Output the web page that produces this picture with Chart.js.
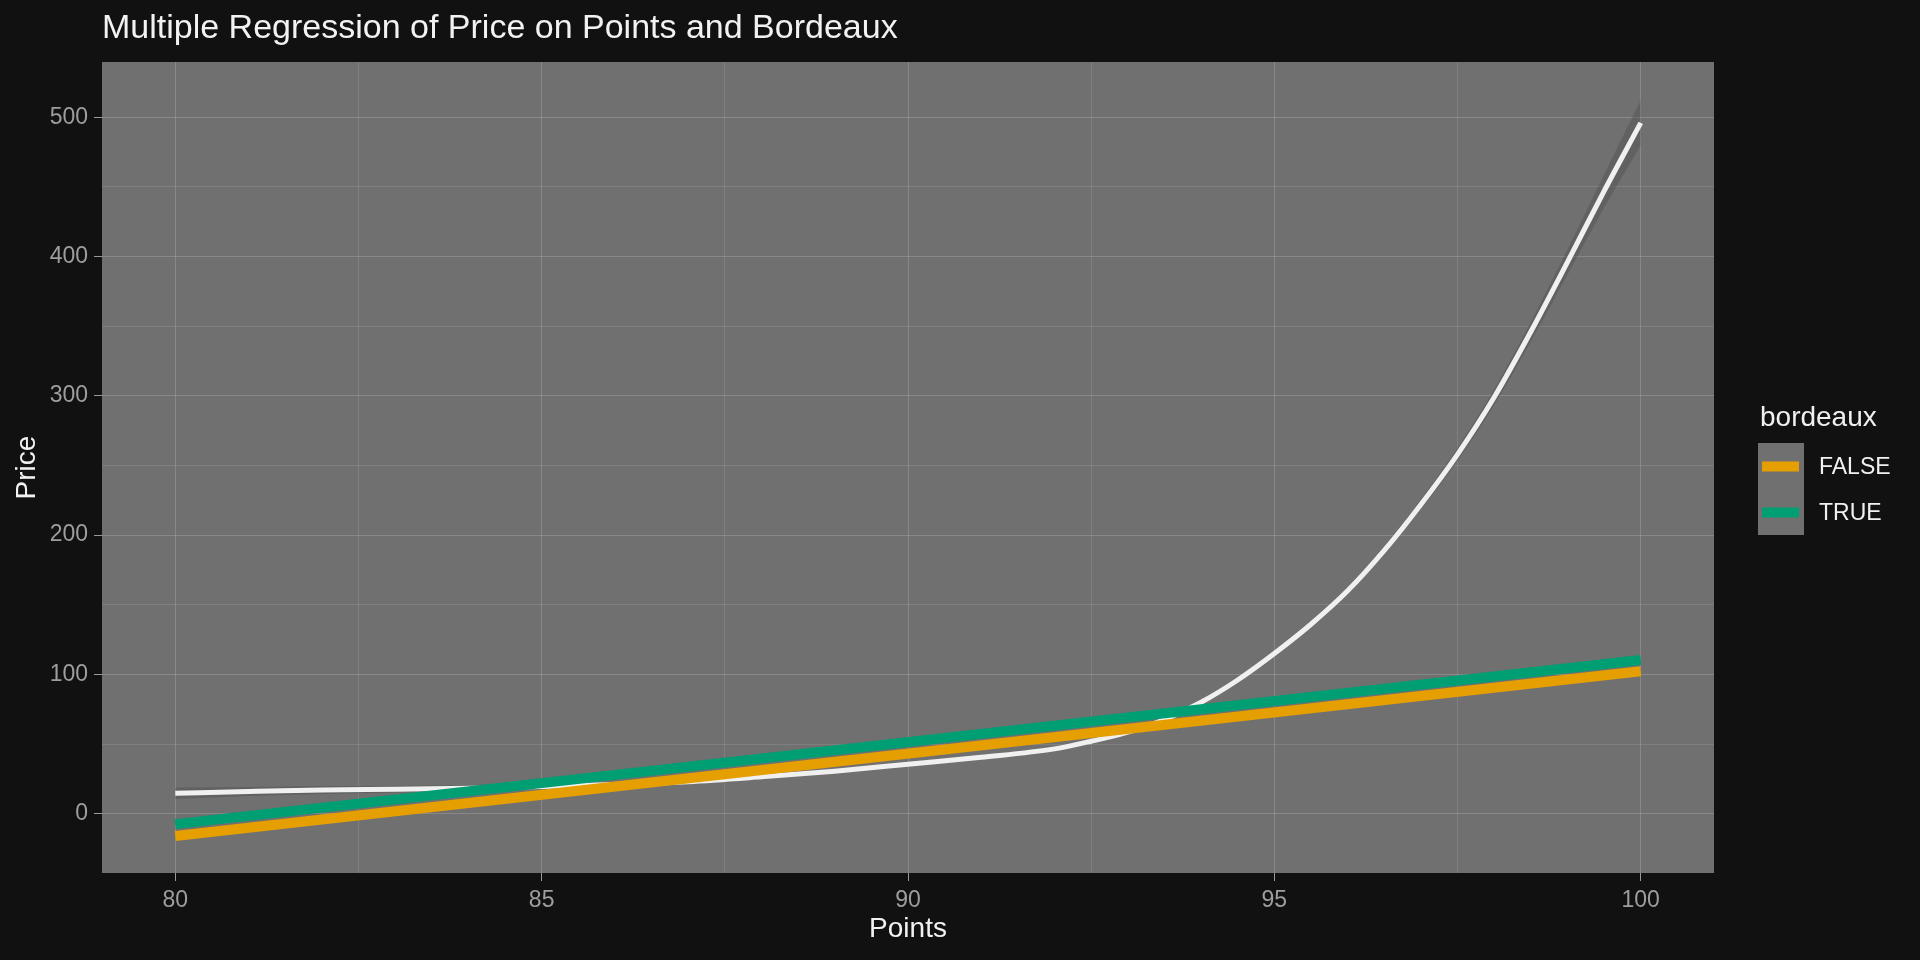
<!DOCTYPE html>
<html>
<head>
<meta charset="utf-8">
<script src="https://cdn.jsdelivr.net/npm/chart.js@4.4.0/dist/chart.umd.min.js"></script>
<style>
  html, body { margin:0; padding:0; background:#111111; }
  canvas { display:block; }
</style>
</head>
<body>
<canvas id="regchart" width="1920" height="960"></canvas>
<script>
// fitted lines
var lineX = [80, 100]
var falseY = [-16.1, 102.2]
var trueY = [-7.5, 110.3]

// smooth fit (white) with its band
var curveX  = [80, 81, 82, 83, 84, 85, 86, 87, 88, 89, 90, 91, 92, 92.5, 93, 93.5, 94, 94.5, 95, 95.5, 96, 96.5, 97, 97.5, 98, 98.5, 99, 99.5, 100]
var curveY  = [14.6, 15.9, 17.0, 17.6, 18.3, 19.5, 21, 23, 26.5, 30.5, 35.5, 40.5, 46.5, 52, 58.5, 67.5, 80, 96, 115, 136, 160, 189, 222, 258, 299, 346, 396, 447, 496]
var curveLo = [10.5, 12.6, 14.2, 15.2, 16.1, 17.5, 19.2, 21.3, 24.9, 29, 34, 39, 45, 50.5, 57, 66, 78.3, 94.2, 113, 133.8, 157.5, 186, 218.5, 253.5, 293.5, 339, 387, 435, 480]
var curveHi = [18.7, 19.2, 19.8, 20, 20.5, 21.5, 22.8, 24.7, 28.1, 32, 37, 42, 48, 53.5, 60, 69, 81.7, 97.8, 117, 138.2, 162.5, 192, 225.5, 262.5, 304.5, 353, 405, 459, 512]

var xGridVals = [80, 82.5, 85, 87.5, 90, 92.5, 95, 97.5, 100]
var xTickVals = [80, 85, 90, 95, 100]
var yGridVals = [0, 50, 100, 150, 200, 250, 300, 350, 400, 450, 500]
var yTickVals = [0, 100, 200, 300, 400, 500]

var seriesNames = ['FALSE', 'TRUE']
var seriesColors = ['#E69F00', '#009E73']

function pts(xs, ys) {
    return xs.map(function(x, i){ return {x: x, y: ys[i]} })
}

var FONT = "'Liberation Sans', Arial, sans-serif"

// grey panel behind the plot area
var panelBg = {
    id: 'panelBg',
    beforeDraw: function(chart) {
        var a = chart.chartArea, ctx = chart.ctx
        ctx.save()
        ctx.fillStyle = '#707070'
        ctx.fillRect(a.left, a.top, a.right - a.left, a.bottom - a.top)
        ctx.restore()
    }
}

// ggplot style legend on the right
var sideLegend = {
    id: 'sideLegend',
    afterDraw: function(chart) {
        var ctx = chart.ctx
        ctx.save()
        ctx.fillStyle = '#f0f0f0'
        ctx.font = '28px ' + FONT
        ctx.textBaseline = 'alphabetic'
        ctx.textAlign = 'left'
        ctx.fillText('bordeaux', 1760, 426)
        ctx.fillStyle = '#707070'
        ctx.fillRect(1758, 443, 46, 92)
        ctx.font = '23px ' + FONT
        ctx.textBaseline = 'middle'
        for (var i = 0; i < seriesNames.length; i++) {
            var cy = 466.5 + i * 46
            ctx.fillStyle = seriesColors[i]
            ctx.fillRect(1762, cy - 5, 37, 10)
            ctx.fillStyle = '#f0f0f0'
            ctx.fillText(seriesNames[i], 1819, cy + 1)
        }
        ctx.restore()
    }
}

var ctx = document.getElementById('regchart').getContext('2d')
var myChart = new Chart(ctx, {
    type: 'line',
    data: {
        datasets: [{
            label: 'band lo',
            data: pts(curveX, curveLo),
            borderWidth: 0,
            pointRadius: 0,
            fill: false,
            cubicInterpolationMode: 'monotone',
            order: 5
        }, {
            label: 'band hi',
            data: pts(curveX, curveHi),
            borderWidth: 0,
            pointRadius: 0,
            backgroundColor: 'rgba(70,70,70,0.35)',
            fill: '-1',
            cubicInterpolationMode: 'monotone',
            order: 4
        }, {
            label: 'fit',
            data: pts(curveX, curveY),
            borderColor: '#f0f0f0',
            borderWidth: 5,
            pointRadius: 0,
            fill: false,
            cubicInterpolationMode: 'monotone',
            // white curve sits under the two fitted lines
            order: 3
        }, {
            label: seriesNames[0],
            data: pts(lineX, falseY),
            borderColor: seriesColors[0],
            borderWidth: 10,
            borderCapStyle: 'butt',
            pointRadius: 0,
            fill: false,
            order: 2
        }, {
            label: seriesNames[1],
            data: pts(lineX, trueY),
            borderColor: seriesColors[1],
            borderWidth: 10,
            borderCapStyle: 'butt',
            pointRadius: 0,
            fill: false,
            order: 1
        }]
    },
    options: {
        responsive: false,
        animation: false,
        devicePixelRatio: 1,
        layout: { padding: { left: 0, top: 0, right: 206, bottom: 0 } },
        plugins: {
            legend: { display: false },
            tooltip: { enabled: false },
            title: {
                display: true,
                text: 'Multiple Regression of Price on Points and Bordeaux',
                align: 'start',
                fullSize: false,
                color: '#f2f2f2',
                font: { family: FONT, size: 34, weight: 'normal', lineHeight: 1.2 },
                padding: { top: 8, bottom: 13.2 }
            }
        },
        scales: {
            x: {
                type: 'linear',
                min: 79,
                max: 101,
                afterBuildTicks: function(s) { s.ticks = xGridVals.map(function(v){ return {value: v} }) },
                afterFit: function(s) { s.height = 87 },
                border: { display: false },
                grid: {
                    color: function(c) { return xTickVals.indexOf(c.tick.value) >= 0 ? 'rgba(255,255,255,0.17)' : 'rgba(255,255,255,0.11)' },
                    lineWidth: 1,
                    tickLength: 8,
                    tickColor: function(c) { return xTickVals.indexOf(c.tick.value) >= 0 ? '#9a9a9a' : 'rgba(0,0,0,0)' }
                },
                ticks: {
                    autoSkip: false,
                    maxRotation: 0,
                    padding: 6,
                    color: '#9e9e9e',
                    font: { family: FONT, size: 23 },
                    callback: function(v) { return xTickVals.indexOf(v) >= 0 ? String(v) : '' }
                },
                title: {
                    display: true,
                    text: 'Points',
                    color: '#f2f2f2',
                    font: { family: FONT, size: 28, lineHeight: 1.2 },
                    padding: { top: 0, bottom: 14 }
                }
            },
            y: {
                type: 'linear',
                min: -42.6,
                max: 539.7,
                afterBuildTicks: function(s) { s.ticks = yGridVals.map(function(v){ return {value: v} }) },
                afterFit: function(s) { s.width = 102 },
                border: { display: false },
                grid: {
                    color: function(c) { return yTickVals.indexOf(c.tick.value) >= 0 ? 'rgba(255,255,255,0.17)' : 'rgba(255,255,255,0.11)' },
                    lineWidth: 1,
                    tickLength: 8,
                    tickColor: function(c) { return yTickVals.indexOf(c.tick.value) >= 0 ? '#9a9a9a' : 'rgba(0,0,0,0)' }
                },
                ticks: {
                    autoSkip: false,
                    padding: 6,
                    color: '#9e9e9e',
                    font: { family: FONT, size: 23 },
                    callback: function(v) { return yTickVals.indexOf(v) >= 0 ? String(v) : '' }
                },
                title: {
                    display: true,
                    text: 'Price',
                    color: '#f2f2f2',
                    font: { family: FONT, size: 28, lineHeight: 1.2 },
                    padding: { top: 10, bottom: 0 }
                }
            }
        }
    },
    plugins: [panelBg, sideLegend]
})
</script>
</body>
</html>
